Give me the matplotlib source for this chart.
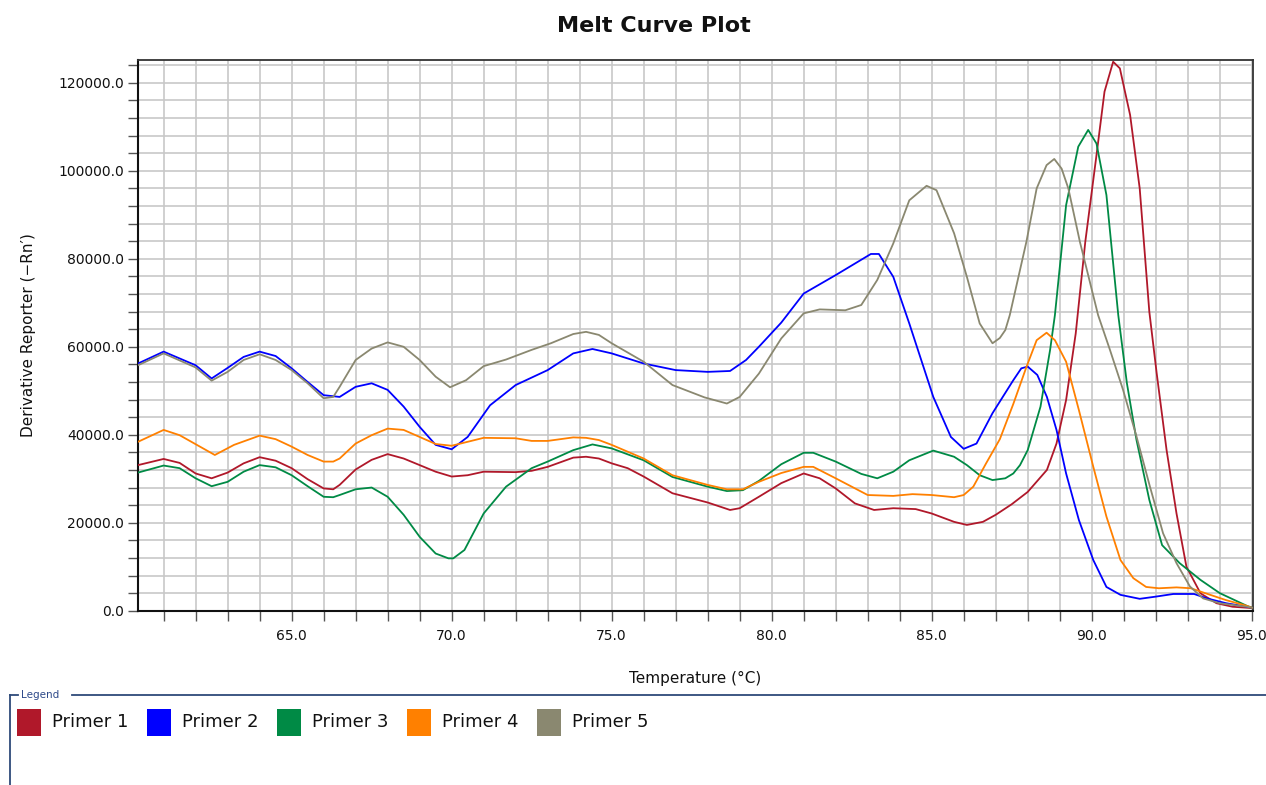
import matplotlib
matplotlib.use("Agg")
import matplotlib.pyplot as plt
from matplotlib.ticker import MultipleLocator, FormatStrFormatter
from matplotlib.patches import Rectangle
from matplotlib.lines import Line2D

W, H = 1266, 785

series_names = ["Primer 1", "Primer 2", "Primer 3", "Primer 4", "Primer 5"]
series_colors = ["#B0182A", "#0000FF", "#008A45", "#FF8000", "#8A8870"]

# Primer 1 (red)
t1 = [60.2, 61.0, 61.5, 62.0, 62.5, 63.0, 63.5, 64.0, 64.5, 65.0, 65.5, 66.0, 66.3, 66.5,
      67.0, 67.5, 68.0, 68.5, 69.0, 69.5, 70.0, 70.5, 71.0, 72.0, 72.5, 73.0, 73.8, 74.2,
      74.6, 75.0, 75.5, 76.0, 76.9, 78.0, 78.7, 79.0, 79.6, 80.3, 81.0, 81.5, 82.0, 82.6,
      83.2, 83.8, 84.5, 85.0, 85.7, 86.1, 86.6, 87.0, 87.5, 88.0, 88.6, 88.9, 89.2, 89.5,
      89.8, 90.15, 90.4, 90.67, 90.88, 91.2, 91.5, 91.8, 92.03, 92.34, 92.65, 92.96, 93.4,
      93.9, 94.4, 95.0]
v1 = [33100, 34500, 33600, 31200, 30100, 31400, 33500, 34900, 34100, 32400, 29900, 27800,
      27600, 28600, 32100, 34300, 35600, 34600, 33100, 31600, 30500, 30800, 31600, 31500,
      31800, 32700, 34800, 35000, 34600, 33500, 32400, 30500, 26700, 24600, 22900, 23300,
      25900, 29000, 31200, 30100, 27800, 24400, 22900, 23300, 23100, 22100, 20200, 19500,
      20200, 21800, 24200, 27000, 32000, 38000, 47900, 63000, 83900, 103600, 118000, 124800,
      123300, 112700, 96000, 68000, 54000, 36500, 22100, 10000, 3950, 1700, 900, 600]

# Primer 2 (blue)
t2 = [60.2, 61.0, 62.0, 62.5, 63.0, 63.5, 64.0, 64.5, 65.0, 65.5, 66.0, 66.5, 67.0, 67.5,
      68.0, 68.5, 69.0, 69.5, 70.0, 70.5, 71.2, 72.0, 73.0, 73.8, 74.4, 75.0, 76.0, 77.0,
      78.0, 78.7, 79.2, 79.6, 80.3, 81.0, 82.0, 83.1, 83.35, 83.8, 84.3, 85.05, 85.6, 86.0,
      86.4, 86.9, 87.55, 87.8, 88.0, 88.3, 88.6, 88.9, 89.2, 89.6, 90.05, 90.46, 90.9, 91.5,
      92.0, 92.55, 93.2, 93.6, 94.2, 94.85, 95.0]
v2 = [56200, 58900, 55800, 52800, 55200, 57700, 58900, 57900, 55100, 52000, 49000, 48600,
      50900, 51700, 50200, 46400, 41800, 37700, 36700, 39500, 46700, 51300, 54700, 58500,
      59500, 58500, 56200, 54700, 54300, 54500, 57000, 60000, 65500, 72100, 76300, 81100,
      81100, 75900, 65300, 48600, 39500, 36800, 38000, 44900, 52400, 55100, 55500, 53600,
      48600, 41100, 31200, 20600, 11500, 5400, 3600, 2700, 3200, 3800, 3800, 2800, 1700,
      900, 700]

# Primer 3 (green)
t3 = [60.2, 61.0, 61.5, 62.0, 62.5, 63.0, 63.5, 64.0, 64.5, 65.0, 65.5, 66.0, 66.3, 66.5,
      67.0, 67.5, 68.0, 68.5, 69.0, 69.5, 69.9, 70.05, 70.4, 71.0, 71.7, 72.5, 73.0, 73.8,
      74.4, 75.0, 76.0, 76.9, 78.0, 78.6, 79.1, 79.6, 80.3, 81.0, 81.3, 82.0, 82.8, 83.3,
      83.8, 84.3, 85.05, 85.7, 86.1, 86.5, 86.9, 87.3, 87.55, 87.76, 88.0, 88.4, 88.7, 88.85,
      89.2, 89.58, 89.89, 90.15, 90.46, 90.83, 91.1, 91.4, 91.8, 92.2, 92.75, 93.4, 94.0,
      94.85, 95.0]
v3 = [31400, 33000, 32400, 30100, 28300, 29300, 31600, 33100, 32600, 30800, 28300, 25900,
      25800, 26300, 27600, 28000, 25900, 21800, 16800, 13000, 11900, 11900, 13800, 22100,
      28200, 32400, 33900, 36500, 37800, 36900, 34200, 30400, 28200, 27200, 27400, 29500,
      33300, 35900, 35900, 33900, 31100, 30100, 31600, 34200, 36400, 35000, 33100, 30800,
      29700, 30100, 31200, 33100, 36500, 46400, 59300, 67200, 92200, 105500, 109300, 106200,
      94500, 67200, 51700, 38800, 25200, 14900, 10800, 7000, 4000, 1100, 700]

# Primer 4 (orange)
t4 = [60.2, 61.0, 61.5, 62.6, 63.2, 64.0, 64.5, 65.0, 65.5, 66.0, 66.3, 66.5, 67.0, 67.5,
      68.0, 68.5, 69.0, 69.5, 70.0, 70.5, 71.0, 72.0, 72.5, 73.0, 73.8, 74.2, 74.6, 75.0,
      76.0, 76.9, 78.0, 78.6, 79.1, 79.6, 80.3, 81.0, 81.3, 82.0, 83.0, 83.8, 84.4, 85.0,
      85.7, 86.0, 86.3, 86.7, 87.13, 87.55, 87.96, 88.28, 88.59, 88.85, 89.2, 89.6, 90.05,
      90.46, 90.9, 91.3, 91.7, 92.1, 92.65, 93.1, 93.5, 94.2, 94.85, 95.0]
v4 = [38400, 41100, 39900, 35400, 37700, 39800, 39000, 37300, 35400, 33900, 33900, 34600,
      38000, 39900, 41400, 41100, 39500, 37900, 37500, 38400, 39300, 39200, 38600, 38600,
      39400, 39300, 38800, 37700, 34600, 30800, 28600, 27600, 27600, 29300, 31300, 32700,
      32700, 30100, 26300, 26100, 26500, 26300, 25800, 26300, 28200, 33500, 39000, 47000,
      55400, 61500, 63200, 61500, 56600, 45600, 32700, 21400, 11500, 7400, 5400, 5100, 5300,
      5100, 4100, 2400, 1100, 700]

# Primer 5 (grey)
t5 = [60.2, 61.0, 62.0, 62.5, 63.0, 63.5, 64.0, 64.5, 65.0, 65.5, 66.0, 66.3, 66.5, 67.0,
      67.5, 68.0, 68.5, 69.0, 69.5, 69.95, 70.45, 71.0, 71.7, 72.5, 73.1, 73.8, 74.2, 74.6,
      75.0, 76.0, 76.9, 77.9, 78.6, 79.0, 79.6, 80.3, 81.0, 81.5, 82.3, 82.8, 83.3, 83.8,
      84.3, 84.84, 85.15, 85.7, 86.1, 86.5, 86.9, 87.13, 87.3, 87.44, 87.96, 88.28, 88.59,
      88.83, 89.06, 89.27, 89.63, 90.2, 90.57, 90.98, 91.4, 91.82, 92.23, 92.65, 93.07,
      93.48, 94.0, 94.85, 95.0]
v5 = [55800, 58500, 55300, 52300, 54300, 57000, 58300, 57000, 54700, 51700, 48300, 48600,
      50900, 57000, 59600, 61000, 60000, 57000, 53200, 50800, 52400, 55600, 57100, 59300,
      60800, 62900, 63400, 62700, 60800, 56600, 51300, 48500, 47100, 48600, 53900, 61900,
      67600, 68500, 68300, 69500, 75200, 83500, 93300, 96600, 95600, 85800, 75900, 65300,
      60800, 62000, 63800, 67200, 83900, 96000, 101300, 102700, 100500, 96000, 83900, 67200,
      59300, 50200, 39600, 28200, 17600, 10800, 5500, 2800, 1700, 900, 700]

temps = [t1, t2, t3, t4, t5]
values = [v1, v2, v3, v4, v5]

x_major = [65, 70, 75, 80, 85, 90, 95]

fig = plt.figure(figsize=(W / 100, H / 100), dpi=100)
fig.patch.set_facecolor("white")

def fx(px):
    return px / W

def fy(py):
    return 1 - py / H

L, R, T, B = 137.7, 1253.0, 60.0, 610.7
ax = fig.add_axes([fx(L), fy(B), fx(R) - fx(L), fy(T) - fy(B)])

for t, v, c in zip(temps, values, series_colors):
    ax.plot(t, v, color=c, lw=1.3, solid_joinstyle="round", zorder=3)

ax.set_xlim(60.19, 95.04)
ax.set_ylim(0, 125200)
ax.set_xticks(x_major)
ax.xaxis.set_major_formatter(FormatStrFormatter("%.1f"))
ax.xaxis.set_minor_locator(MultipleLocator(1))
ax.yaxis.set_major_locator(MultipleLocator(20000))
ax.yaxis.set_minor_locator(MultipleLocator(4000))
ax.yaxis.set_major_formatter(FormatStrFormatter("%.1f"))
ax.set_axisbelow(True)
ax.grid(which="both", color="#C8C8C8", lw=1.2)
ax.tick_params(which="both", direction="out", length=7, width=1, color="#555555",
               labelsize=10, labelcolor="#111111")
ax.tick_params(axis="y", pad=3)
ax.tick_params(axis="x", pad=6)
for s in ["left", "bottom"]:
    ax.spines[s].set_color("#111111")
    ax.spines[s].set_linewidth(1.5)
for s in ["top", "right"]:
    ax.spines[s].set_color("#333333")
    ax.spines[s].set_linewidth(1.3)

ax.set_xlabel("Temperature (°C)", fontsize=11, color="#111111", labelpad=20)
ax.set_ylabel("Derivative Reporter (\u2212Rn\u2032)", fontsize=11, color="#111111", labelpad=16)

fig.text(fx(654), fy(26), "Melt Curve Plot", ha="center", va="center",
         fontsize=16, fontweight="bold", color="#111111")

# legend panel
frame_c = "#2E4A7A"
fig.add_artist(Line2D([fx(10), fx(18)], [fy(695), fy(695)], color=frame_c, lw=1.3,
                      transform=fig.transFigure))
fig.add_artist(Line2D([fx(72), fx(1266)], [fy(695), fy(695)], color=frame_c, lw=1.3,
                      transform=fig.transFigure))
fig.add_artist(Line2D([fx(10), fx(10)], [fy(695), fy(785)], color=frame_c, lw=1.3,
                      transform=fig.transFigure))
fig.text(fx(21), fy(695), "Legend", ha="left", va="center", fontsize=7.5, color="#2E4A8A")

x0 = 17
step = 130
for i, (name, c) in enumerate(zip(series_names, series_colors)):
    sx = x0 + i * step
    fig.add_artist(Rectangle((fx(sx), fy(736)), fx(24), fy(709) - fy(736), facecolor=c,
                             edgecolor="none", transform=fig.transFigure))
    fig.text(fx(sx + 35), fy(722), name, ha="left", va="center", fontsize=13, color="#111111")

fig.savefig("out.png", dpi=100, facecolor="white")
